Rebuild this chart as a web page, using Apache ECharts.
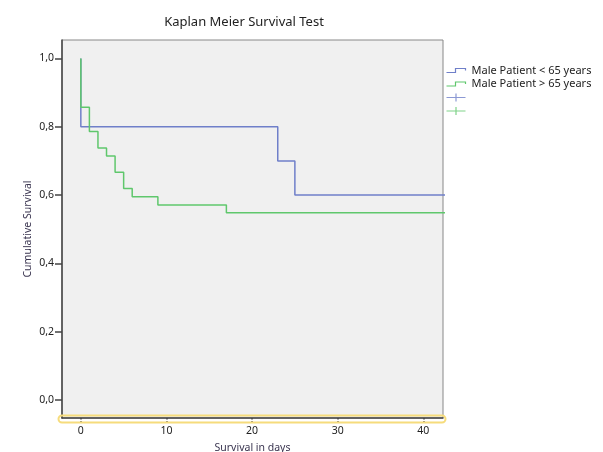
<!DOCTYPE html>
<html>
<head>
<meta charset="utf-8">
<script src="https://cdn.jsdelivr.net/npm/echarts@6/dist/echarts.min.js"></script>
<style>
  html, body { margin: 0; padding: 0; background: #fff; }
  #container { width: 603px; height: 452px; }
</style>
</head>
<body>
<div id="container"></div>
<script>
// survival after each event, [time in days, cumulative survival]
const youngTimes = [0, 0, 23, 25, 43];
const youngSurv = [1.0, 0.8, 0.7, 0.6, 0.6];

const oldTimes = [0, 0, 1, 2, 3, 4, 5, 6, 9, 17, 43];
const oldSurv = [1.0, 0.857, 0.786, 0.738, 0.714, 0.667, 0.619, 0.595, 0.571, 0.548, 0.548];

const xTicks = [0, 10, 20, 30, 40];
const yTicks = [0, 0.2, 0.4, 0.6, 0.8, 1.0];

const names = ['Male Patient < 65 years', 'Male Patient > 65 years', 'Censored < 65', 'Censored > 65'];
const colors = ['#6f7fc9', '#5fc76c'];

const font = '"Noto Sans", "Open Sans", sans-serif';

const chart = echarts.init(document.getElementById('container'));

const stepIcon = 'path://M0,4 L9,4 L9,0 L19,0 L19,2';
const plusIcon = 'path://M0,4 L19,4 M9.5,0 L9.5,8';

function legendItem(name, icon, color) {
  return {
    name: name,
    icon: icon,
    itemStyle: { color: 'none', borderColor: color, borderWidth: 1.2 }
  };
}

const option = {
  animation: false,
  title: {
    text: 'Kaplan Meier Survival Test',
    left: 239,
    textAlign: 'center',
    top: 11,
    textStyle: { fontFamily: font, fontSize: 13, fontWeight: 'normal', color: '#222' }
  },
  legend: {
    orient: 'vertical',
    left: 444,
    top: 64,
    padding: 0,
    itemWidth: 19,
    itemHeight: 8,
    itemGap: 0.5,
    formatter: function (n) {
      return n.indexOf('Censored') === 0 ? '' : n;
    },
    textStyle: { fontFamily: font, fontSize: 11, lineHeight: 13, color: '#222', padding: [0, 0, 0, 1] },
    data: [
      legendItem(names[0], stepIcon, colors[0]),
      legendItem(names[1], stepIcon, colors[1]),
      legendItem(names[2], plusIcon, colors[0]),
      legendItem(names[3], plusIcon, colors[1])
    ]
  },
  grid: {
    left: 62,
    top: 40,
    right: 160,
    bottom: 34,
    outerBoundsMode: 'none',
    containLabel: false,
    show: true,
    backgroundColor: '#f0f0f0',
    borderColor: '#888',
    borderWidth: 1
  },
  xAxis: {
    type: 'value',
    min: -2.2,
    max: 42.3,
    name: 'Survival in days',
    nameLocation: 'middle',
    nameGap: 25,
    nameMoveOverlap: false,
    nameTextStyle: { fontFamily: font, fontSize: 10.5, color: '#3a3550' },
    splitLine: { show: false },
    axisLine: { show: true, onZero: false, lineStyle: { color: '#444', width: 1.5 } },
    axisTick: {
      show: true,
      customValues: xTicks,
      length: 6,
      lineStyle: { color: '#444', type: 'dotted', width: 1.5 }
    },
    axisLabel: {
      customValues: xTicks,
      margin: 8,
      fontFamily: font,
      fontSize: 10.5,
      color: '#222'
    }
  },
  yAxis: {
    type: 'value',
    min: -0.053,
    max: 1.054,
    name: 'Cumulative Survival',
    nameLocation: 'middle',
    nameGap: 28,
    nameMoveOverlap: false,
    nameTextStyle: { fontFamily: font, fontSize: 10.5, color: '#3a3550' },
    splitLine: { show: false },
    axisLine: { show: true, onZero: false, lineStyle: { color: '#444', width: 1.5 } },
    axisTick: {
      show: true,
      customValues: yTicks,
      length: 7,
      lineStyle: { color: '#444', width: 1.5 }
    },
    axisLabel: {
      customValues: yTicks,
      margin: 8,
      fontFamily: font,
      fontSize: 10.5,
      color: '#222',
      formatter: function (v) {
        return v.toFixed(1).replace('.', ',');
      }
    }
  },
  graphic: [{
    type: 'rect',
    z: 100,
    shape: { x: 58.5, y: 415.5, width: 387, height: 7, r: 3.5 },
    style: { fill: 'none', stroke: '#f6dc7c', lineWidth: 2 }
  }],
  series: [
    {
      name: names[0],
      type: 'line',
      step: 'end',
      symbol: 'none',
      color: colors[0],
      lineStyle: { width: 1.5, color: colors[0] },
      data: youngTimes.map((t, i) => [t, youngSurv[i]])
    },
    {
      name: names[1],
      type: 'line',
      step: 'end',
      symbol: 'none',
      color: colors[1],
      lineStyle: { width: 1.5, color: colors[1] },
      data: oldTimes.map((t, i) => [t, oldSurv[i]])
    },
    { name: names[2], type: 'scatter', color: colors[0], data: [] },
    { name: names[3], type: 'scatter', color: colors[1], data: [] }
  ]
};

chart.setOption(option);
</script>
</body>
</html>
